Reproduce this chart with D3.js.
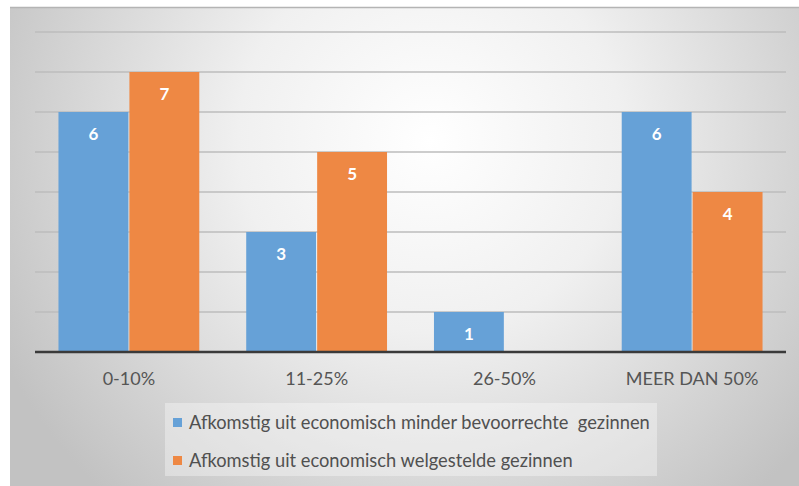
<!DOCTYPE html>
<html>
<head>
<meta charset="utf-8">
<script src="https://cdn.jsdelivr.net/npm/d3@7"></script>
<style>
  body { margin: 0; background: #fff; }
  svg { display: block; }
</style>
</head>
<body>
<svg id="chart" width="799" height="486"></svg>
<script>
// data
var categories = ["0-10%", "11-25%", "26-50%", "MEER DAN 50%"];
var seriesNames = ["Afkomstig uit economisch minder bevoorrechte  gezinnen",
                   "Afkomstig uit economisch welgestelde gezinnen"];
var lowIncome = [6, 3, 1, 6];
var highIncome = [7, 5, null, 4];
var yTicks = [0, 1, 2, 3, 4, 5, 6, 7, 8];

var colors = ["#66a1d7", "#ee8844"];
var fontFam = "Lato, 'Open Sans', sans-serif";

var svg = d3.select("#chart");
var W = 799, H = 486;

// background gradient
var defs = svg.append("defs");
var grad = defs.append("radialGradient")
    .attr("id", "bg")
    .attr("gradientUnits", "userSpaceOnUse")
    .attr("cx", 430).attr("cy", 140).attr("r", 480);
grad.append("stop").attr("offset", "0%").attr("stop-color", "#ffffff");
grad.append("stop").attr("offset", "40%").attr("stop-color", "#f0f0f0");
grad.append("stop").attr("offset", "100%").attr("stop-color", "#c2c2c2");

svg.append("rect")
    .attr("x", 10).attr("y", 8)
    .attr("width", W - 10).attr("height", H - 8)
    .attr("fill", "url(#bg)");
svg.append("line")
    .attr("x1", 10).attr("x2", W).attr("y1", 7.5).attr("y2", 7.5)
    .attr("stroke", "#b4b4b4").attr("stroke-width", 1.5);

var margin = {left: 35, right: 13, top: 32, bottom: 134};
var plotW = W - margin.left - margin.right;
var plotH = H - margin.top - margin.bottom;

var g = svg.append("g")
    .attr("transform", "translate(" + margin.left + "," + margin.top + ")");

var x0 = d3.scaleBand()
    .domain(categories)
    .range([0, plotW])
    .paddingInner(0.25)
    .paddingOuter(0.125);

var x1 = d3.scaleBand()
    .domain([0, 1])
    .range([0, x0.bandwidth()])
    .paddingInner(0.015);

var y = d3.scaleLinear()
    .domain([0, 8])
    .range([plotH, 0]);

// gridlines
g.append("g")
    .selectAll("line")
    .data(yTicks.slice(1))
    .join("line")
    .attr("x1", 0).attr("x2", plotW)
    .attr("y1", function(d) { return y(d); })
    .attr("y2", function(d) { return y(d); })
    .attr("stroke", "#bdbdbd")
    .attr("stroke-width", 1.3);

// bars
var rows = categories.map(function(c, i) {
  return {cat: c, vals: [lowIncome[i], highIncome[i]]};
});

var groups = g.selectAll(".grp")
    .data(rows)
    .join("g")
    .attr("class", "grp")
    .attr("transform", function(d) { return "translate(" + x0(d.cat) + ",0)"; });

var cells = groups.selectAll(".bar")
    .data(function(d) {
      return d.vals.map(function(v, k) { return {k: k, v: v}; })
                   .filter(function(e) { return e.v != null; });
    })
    .join("g")
    .attr("class", "bar");

cells.append("rect")
    .attr("x", function(d) { return x1(d.k); })
    .attr("y", function(d) { return y(d.v); })
    .attr("width", x1.bandwidth())
    .attr("height", function(d) { return plotH - y(d.v); })
    .attr("fill", function(d) { return colors[d.k]; });

cells.append("text")
    .attr("x", function(d) { return x1(d.k) + x1.bandwidth() / 2; })
    .attr("y", function(d) { return y(d.v) + 22; })
    .attr("dy", "0.35em")
    .attr("text-anchor", "middle")
    .attr("fill", "#ffffff")
    .attr("font-family", fontFam)
    .attr("font-weight", "bold")
    .attr("font-size", 17)
    .text(function(d) { return d.v; });

// x axis
var xAxis = g.append("g")
    .attr("transform", "translate(0," + plotH + ")")
    .call(d3.axisBottom(x0).tickSize(0).tickPadding(20));
xAxis.select(".domain").remove();
xAxis.append("line")
    .attr("x1", 0).attr("x2", plotW)
    .attr("stroke", "#3a3a3a").attr("stroke-width", 2.5);
xAxis.selectAll("text")
    .attr("font-family", fontFam)
    .attr("font-size", 18)
    .attr("fill", "#555555");

// legend
var legend = svg.append("g").attr("transform", "translate(165,403)");
legend.append("rect")
    .attr("width", 492).attr("height", 73)
    .attr("fill", "#ffffff").attr("fill-opacity", 0.35);

var items = legend.selectAll(".item")
    .data(seriesNames)
    .join("g")
    .attr("class", "item")
    .attr("transform", function(d, i) { return "translate(8," + (20 + i * 38) + ")"; });
items.append("rect")
    .attr("x", 0).attr("y", -5)
    .attr("width", 9).attr("height", 9)
    .attr("fill", function(d, i) { return colors[i]; });
items.append("text")
    .attr("x", 16).attr("y", 0)
    .attr("dy", "0.35em")
    .attr("font-family", fontFam)
    .attr("font-size", 18.3)
    .attr("fill", "#505050")
    .style("white-space", "pre")
    .text(function(d) { return d; });
</script>
</body>
</html>
